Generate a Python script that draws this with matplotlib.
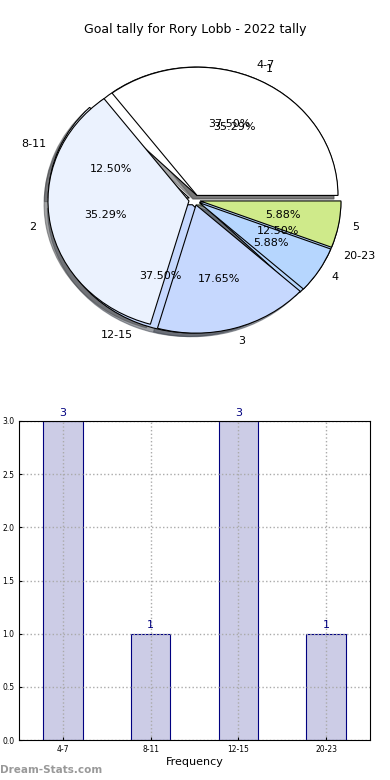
import matplotlib
matplotlib.use("Agg")
import matplotlib.pyplot as plt
import numpy as np

# Datos
ranges = ["4-7", "8-11", "12-15", "20-23"]
range_counts = [3, 1, 3, 1]
goal_labels = ["1", "2", "3", "4", "5"]
goal_counts = [6, 6, 3, 1, 1]
title = "Goal tally for Rory Lobb - 2022 tally"

pie_colors = ["#FFFFFF", "#EBF2FE", "#C6D8FE", "#B6D6FE", "#CFEA8A"]

fig = plt.figure(figsize=(3.9, 7.8), dpi=100)

# Pie (two overlaid pies)
ax1 = fig.add_axes([19 / 390, 1 - 350 / 780, 351 / 390, 300 / 780])
wp = {"edgecolor": "black", "linewidth": 0.8}
ax1.pie(range_counts, labels=ranges, colors=pie_colors[:4], autopct="%.2f%%",
        explode=[0.04] * len(range_counts), shadow=True, startangle=0,
        wedgeprops=wp, textprops={"fontsize": 8})
ax1.pie(goal_counts, labels=goal_labels, colors=pie_colors, autopct="%.2f%%",
        explode=[0.04] * len(goal_counts), shadow=True, startangle=0,
        wedgeprops=wp, textprops={"fontsize": 8})
ax1.set_aspect("auto")
ax1.set_xlim(-1.245, 1.245)
ax1.set_ylim(-1.17, 1.17)
ax1.axis("off")
fig.text(0.5, 1 - 30 / 780, title, ha="center", va="center", fontsize=9)

# Bars
ax2 = fig.add_axes([19 / 390, 1 - 740 / 780, 351 / 390, 319 / 780])
x = np.arange(len(ranges))
bars = ax2.bar(x, range_counts, width=0.45, color="#CCCCE6", edgecolor="#000080",
               linewidth=0.8, zorder=1)
for xi, v in zip(x, range_counts):
    ax2.text(xi, v + 0.03, str(v), ha="center", va="bottom", color="#000080", fontsize=8)
ax2.set_xlim(-0.5, 3.5)
ax2.set_ylim(0, 3.0)
ax2.set_yticks(np.arange(0, 3.01, 0.5))
ax2.set_xticks(x)
ax2.set_xticklabels(ranges)
ax2.tick_params(labelsize=5.5, direction="in", length=2)
ax2.grid(True, linestyle=":", color="#AAAAAA", linewidth=1, zorder=3)
ax2.set_axisbelow(False)
for sp in ax2.spines.values():
    sp.set_zorder(5)
ax2.set_xlabel("Frequency", fontsize=8, labelpad=2)

fig.text(0.0, 1 - 770 / 780, "Dream-Stats.com", color="#999999", fontsize=7.5,
         fontweight="bold", ha="left", va="center")

fig.savefig("out.png", dpi=100)
